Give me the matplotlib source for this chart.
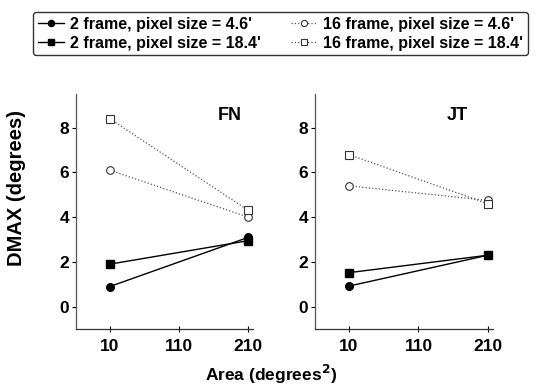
import matplotlib
matplotlib.use("Agg")
import matplotlib.pyplot as plt
from matplotlib.lines import Line2D

plt.rcParams['font.family'] = ['Liberation Sans', 'DejaVu Sans']
plt.rcParams['font.weight'] = 'bold'

area = [10, 210]
x_ticks = [10, 110, 210]
y_ticks = [0, 2, 4, 6, 8]

# DMAX (degrees) per observer
fn_2f_46 = [0.9, 3.1]
fn_2f_184 = [1.9, 2.95]
fn_16f_46 = [6.1, 4.0]
fn_16f_184 = [8.4, 4.3]

jt_2f_46 = [0.92, 2.3]
jt_2f_184 = [1.52, 2.3]
jt_16f_46 = [5.4, 4.75]
jt_16f_184 = [6.8, 4.6]

labels = ["2 frame, pixel size = 4.6'", "2 frame, pixel size = 18.4'",
          "16 frame, pixel size = 4.6'", "16 frame, pixel size = 18.4'"]

styles = [
    dict(color='black', ls='-', lw=1.0, marker='o', ms=5.5, mfc='black', mec='black'),
    dict(color='black', ls='-', lw=1.0, marker='s', ms=5.5, mfc='black', mec='black'),
    dict(color='#555555', ls=':', lw=0.9, marker='o', ms=5.5, mfc='white', mec='#333333', mew=0.8),
    dict(color='#555555', ls=':', lw=0.9, marker='s', ms=6, mfc='white', mec='#333333', mew=0.8),
]

fig = plt.figure(figsize=(5.37, 3.92), dpi=100)
ax1 = fig.add_axes([0.1415, 0.1607, 0.330, 0.599])
ax2 = fig.add_axes([0.5866, 0.1607, 0.331, 0.599])

panels = [(ax1, "FN", 0.87, [fn_2f_46, fn_2f_184, fn_16f_46, fn_16f_184]),
          (ax2, "JT", 0.80, [jt_2f_46, jt_2f_184, jt_16f_46, jt_16f_184])]

for ax, name, tx, series in panels:
    for vals, st in zip(series, styles):
        ax.plot(area, vals, **st)
    ax.set_xlim(-39, 217)
    ax.set_ylim(-1, 9.5)
    ax.set_xticks(x_ticks)
    ax.set_yticks(y_ticks)
    ax.spines['top'].set_visible(False)
    ax.spines['right'].set_visible(False)
    ax.spines['left'].set_color('#555555')
    ax.spines['left'].set_linewidth(0.9)
    ax.spines['bottom'].set_color('#333333')
    ax.spines['bottom'].set_linewidth(0.9)
    ax.tick_params(axis='x', direction='inout', length=5, width=0.8, labelsize=12.5, pad=5)
    ax.tick_params(axis='y', direction='out', length=3, width=0.8, labelsize=12.5, pad=2)
    ax.text(tx, 0.91, name, transform=ax.transAxes, fontsize=13, fontweight='bold',
            ha='center', va='center')

handles = [Line2D([], [], **st) for st in styles]
fig.legend(handles, labels, ncol=2, loc='upper left', bbox_to_anchor=(0.062, 0.97),
           fontsize=11.5, handlelength=1.6, handletextpad=0.4, columnspacing=1.9,
           labelspacing=0.25, frameon=True, fancybox=True, edgecolor='black',
           borderpad=0.3, borderaxespad=0, markerscale=0.8)

fig.text(0.03, 0.52, "DMAX (degrees)", rotation=90, ha='center', va='center',
         fontsize=14.5, fontweight='bold')
fig.text(0.505, 0.045, "Area (degrees$^\\mathbf{2}$)", ha='center', va='center',
         fontsize=12.5, fontweight='bold')

fig.savefig("out.png", dpi=100)
